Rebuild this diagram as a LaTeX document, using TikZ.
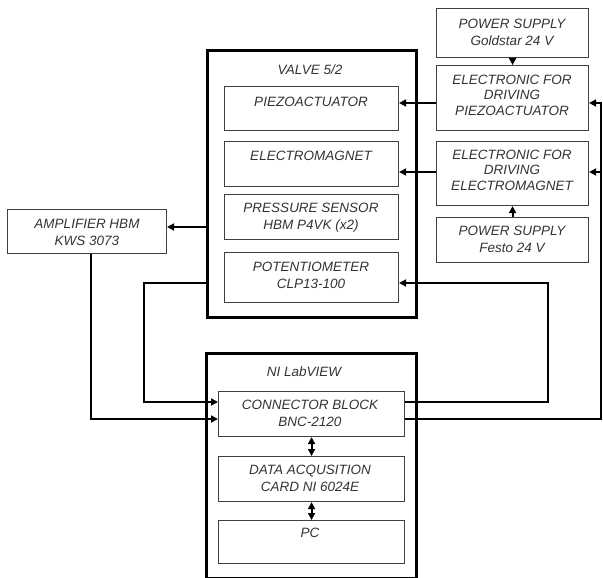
\documentclass[tikz,border=0pt]{standalone}
\usepackage{fontspec}
\setmainfont{Liberation Sans}
\usetikzlibrary{arrows.meta}
\begin{document}
\begin{tikzpicture}[x=1pt,y=-1pt,
 outerbox/.style={draw=black,line width=2.6pt,anchor=north west,inner sep=0pt,rectangle},
 innerbox/.style={draw=black!75,line width=1.1pt,anchor=north west,inner sep=0pt,rectangle},
 lbl/.style={font=\fontsize{13.5}{17}\selectfont\itshape,text=black!80,align=center,inner sep=0pt},
 lblc/.style={font=\fontsize{13.5}{15.5}\selectfont\itshape,text=black!80,align=center,inner sep=0pt},
 conn/.style={line width=2pt,-{Triangle[length=7pt,width=7pt]}},
 dconn/.style={line width=2pt,{Triangle[length=7pt,width=7pt]}-{Triangle[length=7pt,width=7pt]}}]
\useasboundingbox (0,0) rectangle (603,578);

% boxes
\node[outerbox,minimum width=209pt,minimum height=267pt] (valve) at (206,49) {};
\node[innerbox,minimum width=174pt,minimum height=44pt] (piezo) at (224,86) {};
\node[innerbox,minimum width=174pt,minimum height=45pt] (emag) at (224,141) {};
\node[innerbox,minimum width=174pt,minimum height=45pt] (press) at (224,194) {};
\node[innerbox,minimum width=174pt,minimum height=50pt] (pot) at (224,252) {};
\node[innerbox,minimum width=159pt,minimum height=44pt] (amp) at (7,209) {};
\node[innerbox,minimum width=152pt,minimum height=49pt] (psg) at (436,8) {};
\node[innerbox,minimum width=152pt,minimum height=65pt] (edp) at (436,65) {};
\node[innerbox,minimum width=152pt,minimum height=64pt] (ede) at (436,141) {};
\node[innerbox,minimum width=152pt,minimum height=45pt] (psf) at (436,217) {};
\node[outerbox,minimum width=210pt,minimum height=225pt] (ni) at (205,352) {};
\node[innerbox,minimum width=186pt,minimum height=45pt] (conn) at (218,391) {};
\node[innerbox,minimum width=186pt,minimum height=45pt] (daq) at (218,456) {};
\node[innerbox,minimum width=186pt,minimum height=43pt] (pc) at (218,520) {};

% labels
\node[lbl] (tvalve) at (310,70) {VALVE 5/2};
\node[lbl] (tpiezo) at (311,102) {PIEZOACTUATOR};
\node[lbl] (temag) at (311,156) {ELECTROMAGNET};
\node[lbl] (tpress) at (311,218) {PRESSURE SENSOR\\HBM P4VK (x2)};
\node[lbl] (tpot) at (311,275) {POTENTIOMETER\\CLP13-100};
\node[lbl] (tamp) at (87,232) {AMPLIFIER HBM\\KWS 3073};
\node[lbl] (tpsg) at (512,32) {POWER SUPPLY\\Goldstar 24 V};
\node[lblc] (tedp) at (512,95) {ELECTRONIC FOR\\DRIVING\\PIEZOACTUATOR};
\node[lblc] (tede) at (512,170) {ELECTRONIC FOR\\DRIVING\\ELECTROMAGNET};
\node[lbl] (tpsf) at (512,239) {POWER SUPPLY\\Festo 24 V};
\node[lbl] (tni) at (304,372) {NI LabVIEW};
\node[lbl] (tconn) at (310,413) {CONNECTOR BLOCK\\BNC-2120};
\node[lbl] (tdaq) at (310,478) {DATA ACQUSITION\\CARD NI 6024E};
\node[lbl] (tpc) at (310,533) {PC};

% helper coordinates
\coordinate (y103) at (0,103);
\coordinate (y172) at (0,172);
\coordinate (y227) at (0,227);
\coordinate (y283) at (0,283);
\coordinate (y402) at (0,402);
\coordinate (y419) at (0,419);
\coordinate (x91) at (91,0);
\coordinate (x144) at (144,0);
\coordinate (x548) at (548,0);
\coordinate (xR) at (601,0);

% connectors
\draw[conn] (psg.south) -- (edp.north);
\draw[conn] (psf.north) -- (ede.south);
\draw[conn] (edp.west |- y103) -- (piezo.east |- y103);
\draw[conn] (ede.west |- y172) -- (emag.east |- y172);
\draw[conn] (conn.east |- y419) -| (xR |- y103) -- (edp.east |- y103);
\draw[conn] (xR |- y172) -- (ede.east |- y172);
\draw[conn] (valve.west |- y227) -- (amp.east |- y227);
\draw[conn] (amp.south -| x91) -- (x91 |- y419) -- (conn.west |- y419);
\draw[conn] (valve.west |- y283) -- (x144 |- y283) -- (x144 |- y402) -- (conn.west |- y402);
\draw[conn] (conn.east |- y402) -- (x548 |- y402) -- (x548 |- y283) -- (pot.east |- y283);
\draw[dconn] (conn.south) -- (daq.north);
\draw[dconn] (daq.south) -- (pc.north);
\end{tikzpicture}
\end{document}
